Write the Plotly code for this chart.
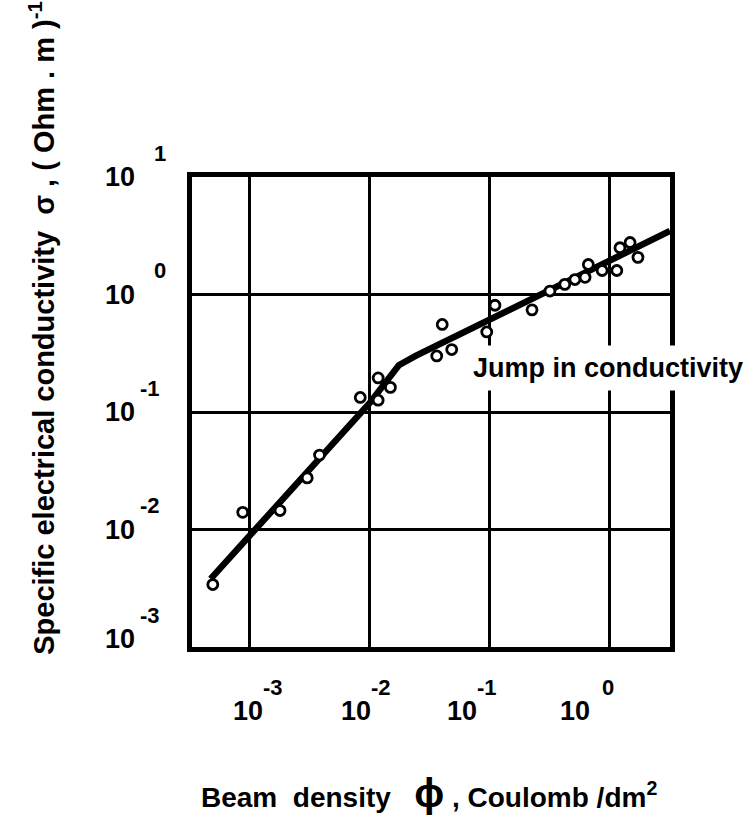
import numpy as np
import plotly.graph_objects as go

# Measured data points (beam density, C/dm^2 ; conductivity, (Ohm.m)^-1)
beam_density = [4.9e-4, 8.7e-4, 1.78e-3, 3.0e-3, 3.8e-3, 8.3e-3, 1.17e-2, 1.17e-2,
                1.48e-2, 0.036, 0.040, 0.048, 0.094, 0.11, 0.224, 0.316, 0.42, 0.51,
                0.62, 0.66, 0.86, 1.14, 1.21, 1.47, 1.71]
conductivity = [3.4e-3, 1.4e-2, 1.45e-2, 2.75e-2, 4.3e-2, 0.133, 0.126, 0.195,
                0.162, 0.30, 0.556, 0.34, 0.48, 0.81, 0.74, 1.07, 1.22, 1.34,
                1.4, 1.8, 1.6, 1.6, 2.5, 2.77, 2.07]

# Fitted curve (two regimes with a kink = jump in conductivity)
fit_x = [4.7e-4, 1.0e-2, 1.74e-2, 2.4e-2, 3.16]
fit_y = [3.8e-3, 0.12, 0.25, 0.30, 3.47]

x_ticks = [1e-3, 1e-2, 1e-1, 1e0]
x_exps = ["-3", "-2", "-1", "0"]
y_ticks = [1e-3, 1e-2, 1e-1, 1e0, 1e1]
y_exps = ["-3", "-2", "-1", "0", "1"]

FONT = "Liberation Sans"

fig = go.Figure()
fig.add_trace(go.Scatter(x=fit_x, y=fit_y, mode="lines",
                         line=dict(color="black", width=6.5)))
fig.add_trace(go.Scatter(x=beam_density, y=conductivity, mode="markers",
                         marker=dict(symbol="circle", size=10, color="white",
                                     line=dict(color="black", width=2.8))))

fig.update_layout(
    width=752, height=818,
    margin=dict(l=192, r=82, t=177, b=171),
    plot_bgcolor="white", paper_bgcolor="white",
    showlegend=False,
)
axis_style = dict(type="log", showticklabels=False, ticks="", showgrid=True,
                  gridcolor="black", gridwidth=3, showline=True,
                  linecolor="black", linewidth=5, mirror=True, zeroline=False)
fig.update_xaxes(range=[-3.483, 0.5], tickvals=x_ticks, **axis_style)
fig.update_yaxes(range=[-3, 1], tickvals=y_ticks, **axis_style)

ann = []
# x tick labels
x_shift = [-2, -14, -28, -35]
x_exp_extra = [0, 0, 0, 12]
for v, e, s, ex in zip(x_ticks, x_exps, x_shift, x_exp_extra):
    ann.append(dict(x=np.log10(v), y=0, xref="x", yref="paper", text="<b>10</b>",
                    showarrow=False, xanchor="center", yanchor="middle",
                    xshift=s, yshift=-64, font=dict(family=FONT, size=27, color="black")))
    ann.append(dict(x=np.log10(v), y=0, xref="x", yref="paper", text="<b>" + e + "</b>",
                    showarrow=False, xanchor="left", yanchor="middle",
                    xshift=s + 13 + ex, yshift=-40, font=dict(family=FONT, size=22, color="black")))
# y tick labels
y_lab_shift = [8, 0, 0, 0, 0]
for v, e, ys in zip(y_ticks, y_exps, y_lab_shift):
    ann.append(dict(x=0, y=np.log10(v), xref="paper", yref="y", text="<b>10</b>",
                    showarrow=False, xanchor="right", yanchor="middle",
                    xshift=-55, yshift=ys, font=dict(family=FONT, size=27, color="black")))
    ann.append(dict(x=0, y=np.log10(v), xref="paper", yref="y", text="<b>" + e + "</b>",
                    showarrow=False, xanchor="left", yanchor="middle",
                    xshift=-54 if e.startswith("-") else -40, yshift=24 + ys,
                    font=dict(family=FONT, size=22, color="black")))

# axis titles
ann.append(dict(x=-0.314, y=0.679, xref="paper", yref="paper", textangle=-90,
                text="<b>Specific electrical conductivity  σ , ( Ohm . m )<sup>-1</sup></b>",
                showarrow=False, xanchor="center", yanchor="middle",
                font=dict(family=FONT, size=29, color="black")))
ann.append(dict(x=0.496, y=-0.311, xref="paper", yref="paper",
                text="<b>Beam  density   <span style='font-size:40px'>ϕ</span> , Coulomb /dm<sup>2</sup></b>",
                showarrow=False, xanchor="center", yanchor="middle",
                font=dict(family=FONT, size=28, color="black")))
# in-plot label
ann.append(dict(x=0.870, y=0.594, xref="paper", yref="paper",
                text="<b>Jump in conductivity</b>", showarrow=False,
                xanchor="center", yanchor="middle", bgcolor="white", borderpad=7,
                font=dict(family=FONT, size=27, color="black")))

fig.update_layout(annotations=ann)
fig.write_html("out.html")
